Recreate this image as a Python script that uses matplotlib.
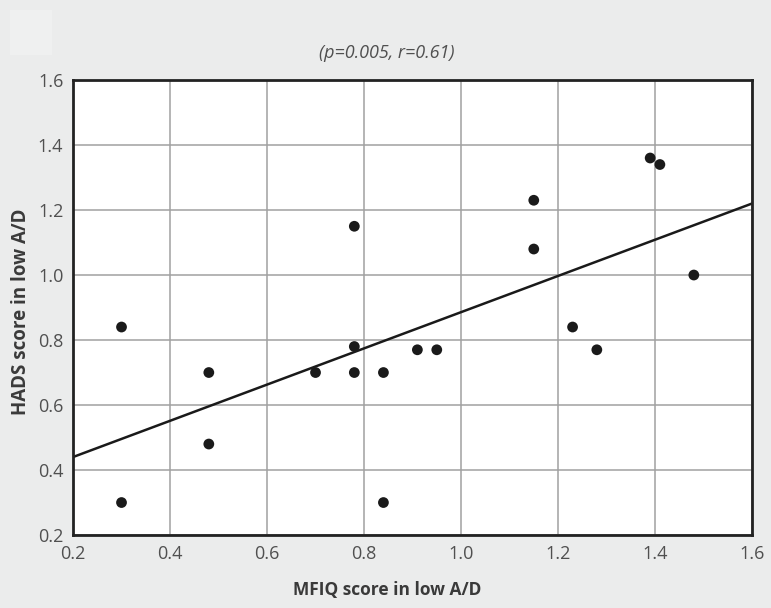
import numpy as np
import matplotlib.pyplot as plt
import matplotlib.patches as mpatches

# MFIQ (x) vs HADS (y) scores in low A/D
mfiq = [0.30, 0.30, 0.48, 0.48, 0.70, 0.78, 0.78, 0.78, 0.84, 0.84,
        0.91, 0.95, 1.15, 1.15, 1.23, 1.28, 1.39, 1.41, 1.48]
hads = [0.84, 0.30, 0.70, 0.48, 0.70, 0.78, 0.70, 1.15, 0.70, 0.30,
        0.77, 0.77, 1.23, 1.08, 0.84, 0.77, 1.36, 1.34, 1.00]

# regression line end points
fit_x = [0.2, 1.6]
fit_y = [0.44, 1.22]

ticks = [0.2, 0.4, 0.6, 0.8, 1.0, 1.2, 1.4, 1.6]
tick_labels = ["0.2", "0.4", "0.6", "0.8", "1.0", "1.2", "1.4", "1.6"]

fundo = "#ebecec"
fonte = ["Open Sans", "DejaVu Sans"]

fig = plt.figure(figsize=(7.71, 6.08), dpi=100, facecolor=fundo)
ax = fig.add_axes([0.0947, 0.120, 0.8807, 0.7484])
ax.set_facecolor("white")

# little lighter square in the top-left corner
fig.patches.append(mpatches.Rectangle((10 / 771, 1 - 55 / 608), 42 / 771, 45 / 608,
                                      transform=fig.transFigure, facecolor="#eff0f0",
                                      edgecolor="none", zorder=0))

ax.set_xlim(0.2, 1.6)
ax.set_ylim(0.2, 1.6)
ax.set_xticks(ticks)
ax.set_yticks(ticks)
ax.set_xticklabels(tick_labels, family=fonte, fontsize=13, color="#505050")
ax.set_yticklabels(tick_labels, family=fonte, fontsize=13, color="#505050")
ax.tick_params(length=0, pad=7)
ax.grid(True, color="#a0a0a0", linewidth=1.1, zorder=0)
ax.set_axisbelow(True)
for sp in ax.spines.values():
    sp.set_linewidth(2.0)
    sp.set_color("#222222")

ax.plot(fit_x, fit_y, color="#1a1a1a", linewidth=1.8, zorder=2)
ax.scatter(mfiq, hads, s=60, color="#1a1a1a", edgecolors="none", zorder=3)

ax.set_xlabel("MFIQ score in low A/D", family=fonte, fontsize=12.5,
              fontweight="bold", color="#3a3a3a")
ax.set_ylabel("HADS score in low A/D", family=fonte, fontsize=13.5,
              fontweight="bold", color="#3a3a3a")
ax.xaxis.set_label_coords(0.462, -0.10)
ax.yaxis.set_label_coords(-0.062, 0.49)
ax.set_title("(p=0.005, r=0.61)", family=fonte, fontsize=13, style="italic",
             color="#505050", pad=16, x=0.462)

plt.savefig("out.png", dpi=100, facecolor=fundo)
